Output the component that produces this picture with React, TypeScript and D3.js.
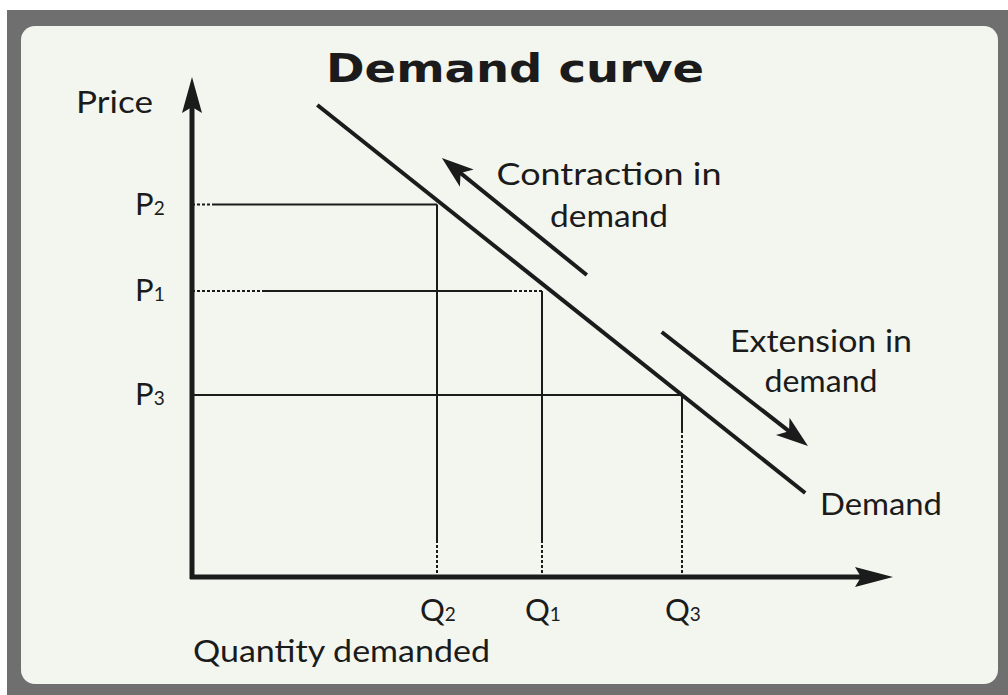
import React from 'react'
import * as d3 from 'd3'

// price levels (P2, P1, P3) and the matching quantities (Q2, Q1, Q3)
const priceLabels = ['2', '1', '3']
const priceValues = [7.45, 5.72, 3.64]
const quantityLabels = ['2', '1', '3']
const quantityValues = [3.5, 5.0, 7.0]

// demand line, end points in (quantity, price)
const demandLine = [
  { q: 1.79, p: 9.44 },
  { q: 8.76, p: 1.68 },
]
// movement arrows: tail -> tip
const contractionArrow = [
  { q: 5.64, p: 6.04 },
  { q: 3.57, p: 8.38 },
]
const extensionArrow = [
  { q: 6.71, p: 4.9 },
  { q: 8.8, p: 2.62 },
]

const W = 1008
const H = 695
const ink = '#1b1b1b'
const font = 'Lato, "Open Sans", sans-serif'

function headPoints(x1: number, y1: number, x2: number, y2: number, len: number, half: number) {
  const a = Math.atan2(y2 - y1, x2 - x1)
  const bx = x2 - len * Math.cos(a)
  const by = y2 - len * Math.sin(a)
  const nx = -Math.sin(a) * half
  const ny = Math.cos(a) * half
  return `${x2},${y2} ${bx + nx},${by + ny} ${bx + len * 0.25 * Math.cos(a)},${by + len * 0.25 * Math.sin(a)} ${bx - nx},${by - ny}`
}

export default function App() {
  const x = d3.scaleLinear().domain([0, 10]).range([192, 892])
  const y = d3.scaleLinear().domain([0, 10]).range([577, 77])
  const [x0, x1] = x.range()
  const [y0, y1] = y.range()

  const line = d3.line<{ q: number; p: number }>()
    .x((d) => x(d.q))
    .y((d) => y(d.p))

  const drawArrow = (pts: { q: number; p: number }[], key: string) => {
    const ax = x(pts[0].q), ay = y(pts[0].p)
    const bx = x(pts[1].q), by = y(pts[1].p)
    return (
      <g key={key}>
        <path d={line([pts[0], { q: x.invert(bx - (bx - ax) * 0.08), p: y.invert(by - (by - ay) * 0.08) }]) || ''}
          stroke={ink} strokeWidth={4} fill="none" />
        <polygon points={headPoints(ax, ay, bx, by, 32, 11)} fill={ink} />
      </g>
    )
  }

  // dotted stubs near the axes (pixels)
  const hDot = [[20, 0], [70, 33], [0, 0]]
  const vDot = [37, 37, 147]

  const fit = { lengthAdjust: 'spacingAndGlyphs' as const }

  return (
    <svg width={W} height={H} style={{ position: 'absolute', left: 0, top: 0 }}>
      <rect x={0} y={0} width={W} height={H} fill="#ffffff" />
      <rect x={7} y={10} width={W - 7} height={H - 10} fill="#6f6f6f" />
      <rect x={21} y={26} width={977} height={658} rx={14} fill="#f3f6ef" />

      <text x={515} y={82} textAnchor="middle" fontFamily='"DejaVu Sans", sans-serif' fontWeight="bold"
        fontSize={39} fill={ink} textLength={378} {...fit}>Demand curve</text>

      {/* guide lines */}
      {priceValues.map((p, i) => {
        const py = y(p)
        const qx = x(quantityValues[i])
        const [dl, dr] = hDot[i]
        const vd = vDot[i]
        return (
          <g key={'g' + i}>
            {dl > 0 && <line x1={x0} x2={x0 + dl} y1={py} y2={py} stroke={ink} strokeWidth={2} strokeDasharray="3,2" />}
            <line x1={x0 + dl} x2={qx - dr} y1={py} y2={py} stroke={ink} strokeWidth={2} />
            {dr > 0 && <line x1={qx - dr} x2={qx} y1={py} y2={py} stroke={ink} strokeWidth={2} strokeDasharray="3,2" />}
            <line x1={qx} x2={qx} y1={py} y2={y0 - vd} stroke={ink} strokeWidth={2} />
            <line x1={qx} x2={qx} y1={y0 - vd} y2={y0} stroke={ink} strokeWidth={2} strokeDasharray="3,2" />
          </g>
        )
      })}

      {/* axes */}
      <line x1={x0} x2={x0} y1={y0 + 2} y2={y1 + 20} stroke={ink} strokeWidth={5} />
      <polygon points={`${x0},${y1} ${x0 + 10},${y1 + 36} ${x0},${y1 + 30} ${x0 - 10},${y1 + 36}`} fill={ink} />
      <line x1={x0 - 2} x2={x1 - 20} y1={y0} y2={y0} stroke={ink} strokeWidth={5} />
      <polygon points={`${x1 + 1},${y0} ${x1 - 37},${y0 + 10} ${x1 - 31},${y0} ${x1 - 37},${y0 - 10}`} fill={ink} />

      {/* demand line */}
      <path d={line(demandLine) || ''} stroke={ink} strokeWidth={4} fill="none" />
      {drawArrow(contractionArrow, 'c')}
      {drawArrow(extensionArrow, 'e')}

      {/* labels */}
      <g fontFamily={font} fill={ink}>
        <text x={76} y={113} fontSize={30} textLength={77} {...fit}>Price</text>
        <text x={193} y={662} fontSize={30} textLength={297} {...fit}>Quantity demanded</text>
        <text x={609} y={185} fontSize={31} textAnchor="middle" textLength={225} {...fit}>Contraction in</text>
        <text x={609} y={227} fontSize={31} textAnchor="middle" textLength={118} {...fit}>demand</text>
        <text x={821} y={352} fontSize={31} textAnchor="middle" textLength={182} {...fit}>Extension in</text>
        <text x={821} y={392} fontSize={31} textAnchor="middle" textLength={113} {...fit}>demand</text>
        <text x={820} y={515} fontSize={31} textLength={122} {...fit}>Demand</text>
        {priceValues.map((p, i) => (
          <text key={'p' + i} x={135} y={y(p) + 10} fontSize={31}>
            P<tspan fontSize={19}>{priceLabels[i]}</tspan>
          </text>
        ))}
        {quantityValues.map((q, i) => (
          <text key={'q' + i} x={x(q) - 17} y={621} fontSize={31}>
            Q<tspan fontSize={19}>{quantityLabels[i]}</tspan>
          </text>
        ))}
      </g>
    </svg>
  )
}
